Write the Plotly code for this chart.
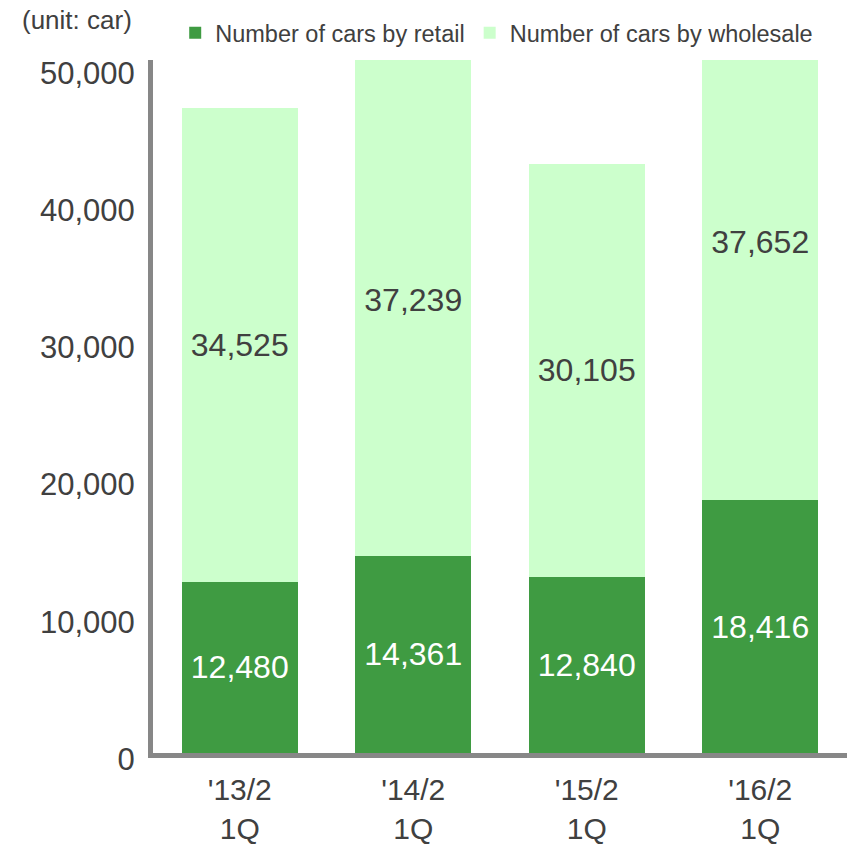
import plotly.graph_objects as go

categories = ["'13/2<br>1Q", "'14/2<br>1Q", "'15/2<br>1Q", "'16/2<br>1Q"]
retail = [12480, 14361, 12840, 18416]
wholesale = [34525, 37239, 30105, 37652]
y_ticks = [0, 10000, 20000, 30000, 40000, 50000]
y_ticktext = [f"{v:,}" for v in y_ticks]

FONT = "Arial, 'Liberation Sans', sans-serif"
DARK = "#3F9B42"
LIGHT = "#CCFFCC"
TEXT = "#404040"
AXIS = "#878787"

fig = go.Figure()
fig.add_bar(
    x=categories, y=retail, name="Number of cars by retail",
    marker=dict(color=DARK, line_width=0),
    text=[f"{v:,}" for v in retail], textposition="inside",
    insidetextanchor="middle", constraintext="none",
    textfont=dict(color="white", size=32, family=FONT),
)
fig.add_bar(
    x=categories, y=wholesale, name="Number of cars by wholesale",
    marker=dict(color=LIGHT, line_width=0),
    text=[f"{v:,}" for v in wholesale], textposition="inside",
    insidetextanchor="middle", constraintext="none",
    textfont=dict(color=TEXT, size=32, family=FONT),
)

fig.update_layout(
    barmode="stack", bargap=0.332,
    width=855, height=847,
    margin=dict(l=153, r=8, t=60, b=94, autoexpand=False),
    plot_bgcolor="white", paper_bgcolor="white",
    font=dict(family=FONT, color=TEXT),
    showlegend=True,
    legend=dict(orientation="h", x=0.032, xanchor="left", y=1.039, yanchor="middle",
                font=dict(size=23.5, family=FONT, color=TEXT), traceorder="normal",
                bgcolor="rgba(0,0,0,0)", itemwidth=30),
    annotations=[dict(text="(unit: car)", xref="paper", yref="paper",
                      x=-0.192, xanchor="left", y=1.0577, yanchor="middle",
                      showarrow=False, font=dict(size=26, family=FONT, color=TEXT))],
)
fig.update_yaxes(
    range=[0, 50500], tickvals=y_ticks, ticktext=y_ticktext,
    tickfont=dict(size=31, family=FONT, color=TEXT),
    showgrid=False, zeroline=False, showline=True, linecolor=AXIS, linewidth=5,
    ticks="", ticklabelstandoff=7, ticklabelshift=6, automargin=False,
)
fig.update_xaxes(
    tickfont=dict(size=30, family=FONT, color=TEXT),
    showgrid=False, zeroline=False, showline=True, linecolor=AXIS, linewidth=5,
    ticks="", ticklabelstandoff=6, automargin=False,
)

fig.write_html("out.html")
